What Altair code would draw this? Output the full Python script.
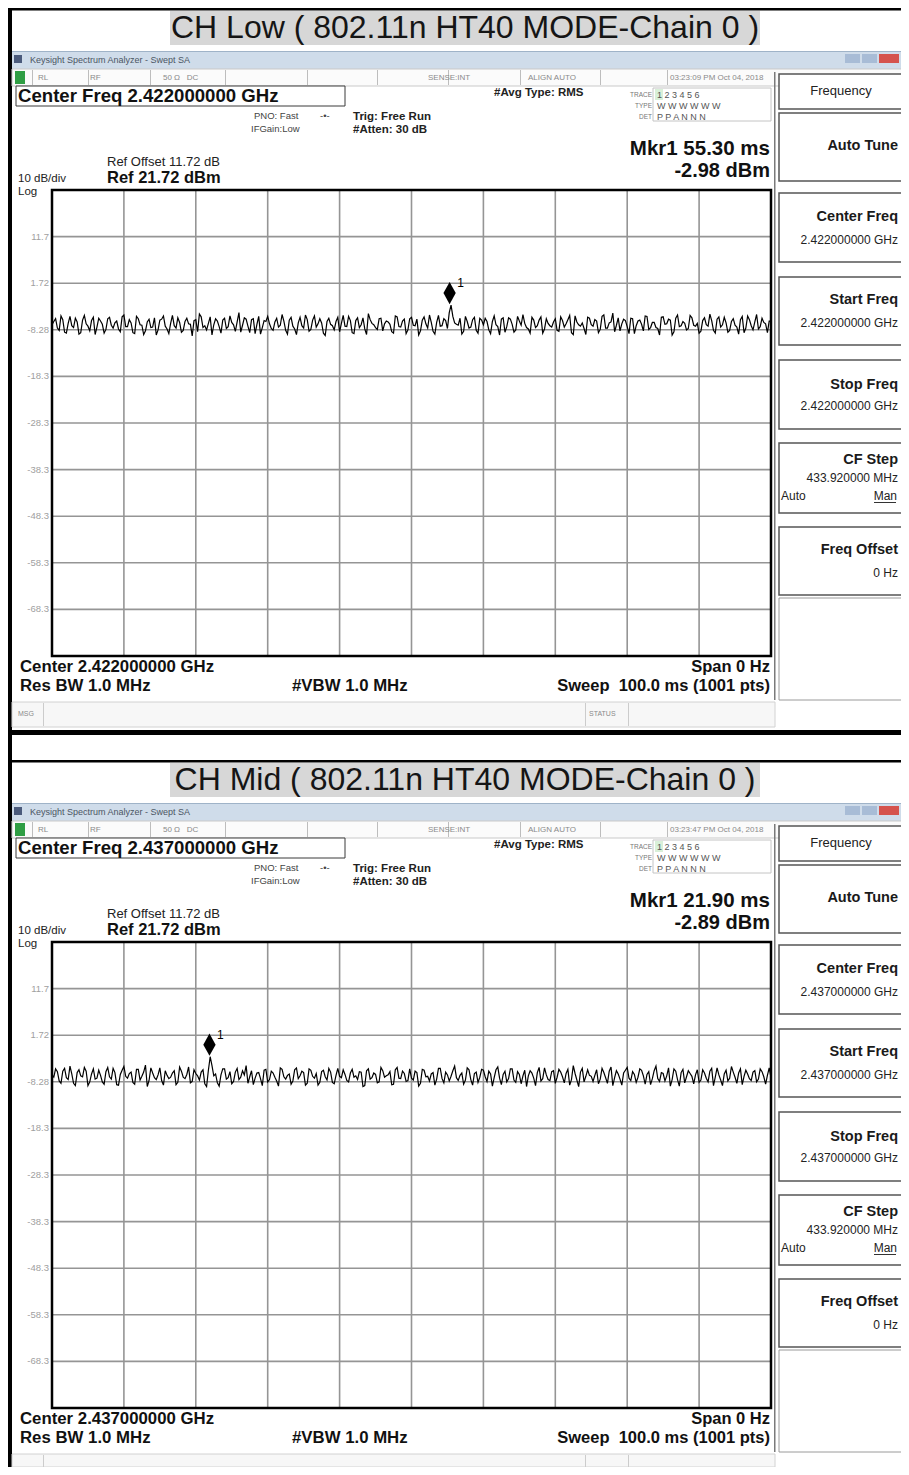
import altair as alt
import pandas as pd

FONT = "Liberation Sans"

# ---------------- data ----------------
# trace samples (dBm), sweep points in time order; A = even samples, B = odd samples
LOW_DBM_A = [
    -7.2, -5.9, -8.4, -6.1, -9.0, -5.4, -7.8, -6.6, -8.9, -5.2, -7.5, -6.3, -9.3, -5.8, -7.1, -8.2, -5.6, -7.9, -6.4, -8.7,
    -5.1, -7.6, -6.8, -9.1, -5.9, -7.3, -8.5, -6.0, -7.7, -9.4, -6.2, -5.3, -8.1, -6.9, -7.4, -5.7, -8.8, -6.5, -7.0, -9.6,
    -6.1, -4.9, -7.8, -8.3, -5.5, -7.2, -6.4, -9.0, -5.8, -7.6, -6.7, -8.6, -4.6, -7.3, -6.0, -8.9, -5.9, -7.1, -9.2, -6.3,
    -5.4, -8.0, -6.6, -7.7, -5.0, -8.4, -6.2, -7.5, -9.3, -5.6, -7.9, -6.1, -8.2, -5.3, -7.0, -6.8, -9.5, -5.8, -7.4, -6.5,
    -8.7, -5.2, -7.6, -6.3, -9.1, -5.7, -7.2, -8.1, -4.8, -6.9, -7.8, -5.9, -8.5, -6.4, -7.1, -9.0, -5.5, -7.7, -6.0, -8.3,
    -5.6, -7.4, -9.4, -6.2, -7.0, -5.1, -8.6, -6.7, -7.5, -5.9, -8.0, -3.0, -6.8, -7.3, -9.2, -5.4, -7.9, -6.1, -8.4, -5.8,
    -7.2, -6.5, -9.1, -5.3, -7.6, -6.0, -8.8, -5.7, -7.1, -8.3, -6.4, -5.0, -7.8, -9.0, -6.2, -7.4, -5.5, -8.1, -6.9, -7.7,
    -5.9, -8.6, -6.3, -7.0, -5.2, -9.3, -6.6, -7.5, -8.0, -5.6, -7.2, -6.1, -8.9, -5.4, -7.9, -6.8, -4.7, -7.3, -8.5, -6.0,
    -7.6, -5.8, -9.1, -6.4, -7.1, -5.3, -8.2, -6.7, -7.8, -9.4, -5.5, -7.0, -6.2, -8.7, -5.1, -7.4, -6.9, -8.0, -5.7, -7.5,
    -9.0, -6.3, -7.2, -4.9, -8.4, -6.0, -7.7, -5.6, -8.8, -6.5, -7.3, -9.2, -5.4, -7.9, -6.1, -8.3, -5.0, -7.6, -6.7, -8.9,
    -6.4,
]
LOW_DBM_B = [
    -6.5, -7.9, -5.3, -8.8, -6.9, -7.4, -5.8, -9.2, -6.2, -7.0, -8.5, -5.6, -7.7, -6.4, -9.0, -5.9, -7.3, -6.8, -8.1, -5.5,
    -7.6, -6.1, -8.9, -5.4, -7.2, -9.3, -6.6, -7.8, -5.7, -8.3, -6.0, -7.5, -9.1, -5.2, -7.9, -6.7, -8.4, -5.8, -7.1, -6.3,
    -8.7, -5.5, -7.4, -6.9, -9.4, -5.9, -7.6, -6.2, -8.0, -5.3, -7.2, -6.6, -8.8, -5.7, -7.5, -6.1, -9.1, -5.4, -7.8, -6.5,
    -7.0, -8.4, -5.8, -7.3, -6.4, -9.2, -5.6, -8.1, -6.8, -7.4, -5.1, -8.6, -6.2, -7.7, -5.9, -9.0, -6.5, -7.1, -8.3, -5.6,
    -6.9, -7.5, -5.4, -8.9, -6.3, -7.8, -5.7, -9.3, -6.1, -7.2, -8.2, -5.8, -7.0, -6.6, -8.7, -5.3, -7.6, -6.4, -9.1, -5.9,
    -7.3, -6.0, -8.5, -5.5, -7.9, -6.7, -9.2, -5.2, -7.4, -6.3, -4.6, -5.4, -7.1, -5.8, -8.6, -6.5, -7.7, -5.6, -9.0, -6.2,
    -5.8, -8.3, -6.5, -7.2, -9.4, -5.7, -7.6, -6.0, -8.8, -5.4, -7.3, -6.9, -8.1, -5.6, -7.8, -6.2, -9.0, -5.9, -7.4, -6.6,
    -8.4, -5.5, -7.7, -6.1, -8.9, -5.3, -7.2, -6.8, -9.3, -5.8, -7.5, -6.4, -8.2, -5.1, -7.9, -6.6, -8.7, -5.7, -7.0, -6.3,
    -9.1, -5.9, -7.4, -6.2, -8.5, -5.4, -7.8, -6.7, -8.0, -5.6, -7.1, -6.0, -9.4, -5.8, -7.6, -6.5, -8.3, -5.2, -7.3, -6.9,
    -8.6, -5.7, -7.5, -6.3, -9.0, -5.5, -7.2, -6.8, -8.4, -5.9, -7.7, -6.1, -8.9, -5.3, -7.4, -6.6, -8.1, -5.8, -7.0, -6.4,
]
MID_DBM_A = [
    -6.8, -5.5, -8.1, -6.0, -7.4, -4.9, -8.6, -6.3, -7.0, -5.2, -9.1, -6.6, -7.7, -5.8, -8.3, -6.1, -7.2, -5.4, -8.9, -6.7,
    -5.0, -7.5, -6.2, -8.8, -5.6, -7.1, -4.7, -8.0, -6.4, -7.8, -5.3, -9.0, -6.9, -7.3, -5.9, -8.4, -6.0, -7.6, -5.1, -8.2,
    -6.5, -7.9, -5.7, -9.3, -2.9, -7.0, -8.5, -6.8, -5.5, -7.4, -8.7, -6.2, -7.8, -5.9, -4.8, -7.2, -8.9, -6.4, -7.6, -5.8,
    -8.3, -6.0, -7.3, -9.2, -5.6, -7.7, -6.6, -8.1, -5.3, -7.0, -6.3, -8.6, -5.8, -7.5, -9.0, -6.1, -7.2, -5.4, -8.4, -6.9,
    -7.1, -5.7, -8.0, -6.4, -7.3, -7.8, -6.2, -9.1, -5.5, -7.4, -6.7, -8.3, -5.9, -7.0, -6.1, -8.8, -5.2, -7.6, -6.5, -8.0,
    -7.5, -6.0, -9.2, -5.6, -7.2, -8.1, -6.3, -7.7, -5.4, -8.5, -6.8, -7.1, -4.9, -8.0, -6.4, -7.9, -5.7, -9.0, -6.2, -7.3,
    -5.8, -8.2, -6.6, -7.4, -5.1, -8.9, -6.0, -7.6, -5.5, -8.4, -6.7, -7.0, -9.3, -5.9, -7.5, -6.3, -8.1, -5.3, -7.8, -6.1,
    -8.6, -5.6, -7.2, -6.5, -9.0, -4.8, -7.9, -6.2, -8.3, -5.7, -7.1, -6.9, -8.7, -5.4, -7.4, -6.0, -9.1, -5.9, -7.7, -6.4,
    -5.2, -8.0, -6.7, -7.3, -5.8, -8.8, -6.1, -7.6, -4.9, -8.2, -6.5, -7.0, -9.2, -5.5, -7.8, -6.3, -8.5, -5.9, -7.1, -6.8,
    -8.4, -5.7, -7.5, -6.0, -9.1, -5.3, -7.9, -6.6, -8.1, -5.0, -7.3, -6.4, -8.9, -5.8, -7.6, -6.2, -8.3, -5.5, -7.2, -6.9,
    -7.4,
]
MID_DBM_B = [
    -7.3, -6.1, -8.6, -5.4, -7.8, -6.6, -9.1, -5.7, -7.2, -6.0, -8.3, -5.5, -7.5, -6.9, -8.8, -5.2, -7.7, -6.3, -9.0, -5.8,
    -7.1, -6.5, -8.4, -5.6, -7.9, -6.2, -9.3, -5.3, -7.4, -6.8, -8.0, -5.9, -7.6, -6.4, -8.9, -5.1, -7.3, -6.7, -8.5, -5.7,
    -7.0, -6.2, -8.7, -5.8, -4.8, -6.6, -9.2, -5.5, -7.7, -6.1, -8.2, -5.4, -7.3, -6.8, -8.6, -5.9, -7.5, -6.3, -9.1, -5.6,
    -7.8, -6.4, -8.1, -5.3, -7.2, -6.9, -8.8, -5.7, -7.6, -6.0, -9.0, -5.5, -7.1, -6.5, -8.4, -5.8, -7.9, -6.2, -8.7, -5.4,
    -7.4, -6.7, -8.3, -5.6, -7.0, -6.1, -9.3, -5.9, -7.7, -6.4, -8.5, -5.2, -7.3, -6.8, -8.9, -5.7, -7.5, -6.0, -8.2, -5.5,
    -7.9, -6.3, -8.6, -5.8, -7.1, -6.6, -9.0, -5.4, -7.6, -6.2, -8.1, -5.9, -7.4, -6.9, -8.8, -5.3, -7.8, -6.5, -8.4, -5.6,
    -7.2, -6.0, -9.2, -5.7, -7.5, -6.7, -8.3, -5.5, -7.9, -6.1, -8.7, -5.8, -7.0, -6.4, -9.1, -5.2, -7.6, -6.8, -8.0, -5.9,
    -7.3, -6.2, -8.5, -5.6, -7.8, -6.5, -9.3, -5.4, -7.1, -6.9, -8.2, -5.7, -7.7, -6.3, -8.6, -5.1, -7.4, -6.6, -9.0, -5.8,
    -7.5, -6.1, -8.4, -5.5, -7.0, -6.7, -8.9, -5.9, -7.6, -6.3, -8.1, -5.3, -7.8, -6.0, -9.2, -5.6, -7.2, -6.5, -8.7, -5.7,
    -7.9, -6.4, -8.3, -5.4, -7.3, -6.8, -9.1, -5.8, -7.5, -6.2, -8.6, -5.5, -7.1, -6.6, -8.0, -5.9, -7.7, -6.1, -8.8, -5.3,
]
SWEEP_MS = 100.0
REF_DBM = 21.72
DB_PER_DIV = 10
GRID_DBM = [11.72, 1.72, -8.28, -18.28, -28.28, -38.28, -48.28, -58.28, -68.28]
GRID_LABELS = ["11.7", "1.72", "-8.28", "-18.3", "-28.3", "-38.3", "-48.3", "-58.3", "-68.3"]
GRID_MS = [10, 20, 30, 40, 50, 60, 70, 80, 90]

PANELS = [
    dict(title="CH Low ( 802.11n HT40 MODE-Chain 0 )", freq="2.422000000",
         clock="03:23:09 PM Oct 04, 2018", mkr_ms=55.30, mkr_dbm=-2.98, a=LOW_DBM_A, b=LOW_DBM_B),
    dict(title="CH Mid ( 802.11n HT40 MODE-Chain 0 )", freq="2.437000000",
         clock="03:23:47 PM Oct 04, 2018", mkr_ms=21.90, mkr_dbm=-2.89, a=MID_DBM_A, b=MID_DBM_B),
]

PANEL_W = 893  # page is 909 wide with 8px body margins


def interleave(a, b):
    out = []
    for i, v in enumerate(a):
        out.append(v)
        if i < len(b):
            out.append(b[i])
    return out


def panel(cfg, height, first):
    ymax = 8 + height
    xmax = 8 + PANEL_W
    DX = alt.Scale(domain=[8, xmax], range=[0, PANEL_W], nice=False, zero=False)
    DY = alt.Scale(domain=[8, ymax], range=[0, height], nice=False, zero=False)
    TX = alt.Scale(domain=[0, SWEEP_MS], range=[44, 763], nice=False, zero=False)
    bottom = REF_DBM - 10 * DB_PER_DIV
    TY = alt.Scale(domain=[bottom, REF_DBM], range=[648, 182], nice=False, zero=False)

    def rects(rows):
        rows = [(a, b, c, min(d, ymax), e, f, g) for (a, b, c, d, e, f, g) in rows if c < ymax]
        df = pd.DataFrame(rows, columns=["x", "x2", "y", "y2", "fill", "stroke", "sw"])
        return alt.Chart(df).mark_rect(clip=True).encode(
            x=alt.X("x:Q", scale=DX, axis=None), x2="x2:Q",
            y=alt.Y("y:Q", scale=DY, axis=None), y2="y2:Q",
            fill=alt.Fill("fill:N", scale=None),
            stroke=alt.Stroke("stroke:N", scale=None),
            strokeWidth=alt.StrokeWidth("sw:Q", scale=None),
        )

    def txt(rows, **kw):
        rows = [r for r in rows if r[1] < ymax - 4]
        df = pd.DataFrame(rows, columns=["x", "y", "label"])
        opts = dict(font=FONT, baseline="middle", align="left", color="#111", clip=True)
        opts.update(kw)
        return alt.Chart(df).mark_text(**opts).encode(
            x=alt.X("x:Q", scale=DX, axis=None),
            y=alt.Y("y:Q", scale=DY, axis=None),
            text="label:N",
        )

    T = "transparent"
    R = 906  # right edge of the screenshot buttons (cut off by the page edge)
    RT = 898  # right edge used for the soft-key texts
    box_rows = [
        (8, R, 8, 10.5, "#000000", T, 0),
        (8, 12, 8, ymax, "#000000", T, 0),
        (170, 760, 11, 45, "#d7d7d7", T, 0),
        (12, R, 51, 69, "#cfdcea", T, 0),
        (12, R, 51, 52, "#9fb3c8", T, 0),
        (12, R, 69, 86, "#fbfbfb", "#c9c9c9", 1),
        (14, 22, 55, 63, "#4b5b7c", T, 0),
        (15, 25, 71, 84, "#2f9e44", T, 0),
        (845, 860, 54, 63, "#a8bcd6", T, 0),
        (862, 877, 54, 63, "#a8bcd6", T, 0),
        (879, 899, 54, 63, "#d5534d", T, 0),
        (16, 345, 86, 106, "#ffffff", "#3a3a3a", 1),
        (653, 771, 88, 121, "#ffffff", "#c4c4c4", 1),
        (655, 663, 89, 100, "#d9f0d9", T, 0),
        (774, 775.5, 72, 700, "#7a7a7a", T, 0),
        (779, R, 74, 109, "#ffffff", "#555555", 1.5),
        (779, R, 113, 181, "#ffffff", "#555555", 1.5),
        (779, R, 193, 262, "#ffffff", "#555555", 1.5),
        (779, R, 277, 345, "#ffffff", "#555555", 1.5),
        (779, R, 360, 429, "#ffffff", "#555555", 1.5),
        (779, R, 443, 513, "#ffffff", "#555555", 1.5),
        (779, R, 527, 595, "#ffffff", "#555555", 1.5),
        (779, R, 598, 700, "#ffffff", "#9a9a9a", 1),
        (874, 896, 502, 503, "#333333", T, 0),
        (12, 775, 702, 727, "#f7f7f7", "#d2d2d2", 1),
        (43, 44, 703, 726, "#cccccc", T, 0),
        (585, 586, 703, 726, "#cccccc", T, 0),
        (628, 629, 703, 726, "#cccccc", T, 0),
    ]
    for sx in [32, 88, 150, 225, 307, 377, 448, 520, 600, 667]:
        box_rows.append((sx, sx + 1, 70, 85, "#bdbdbd", T, 0))
    if first:
        box_rows.append((8, R, 730, 735, "#000000", T, 0))

    f = cfg["freq"]
    nb = "\u00a0"
    deco = [
        rects(box_rows),
        txt([(465, 28, cfg["title"])], fontSize=32, align="center", color="#151515"),
        txt([(30, 60, "Keysight Spectrum Analyzer - Swept SA")], fontSize=9, color="#4b5563"),
        txt([(38, 78, "RL"), (90, 78, "RF"), (163, 78, f"50 Ω{nb}{nb}{nb}DC"), (428, 78, "SENSE:INT"),
             (528, 78, "ALIGN AUTO"), (670, 78, cfg["clock"])], fontSize=8, color="#8a8a8a"),
        txt([(18, 96, f"Center Freq {f} GHz")], fontSize=18.6, fontWeight="bold"),
        txt([(254, 116, "PNO: Fast"), (251, 129, "IFGain:Low"), (320, 116, "-•-")],
            fontSize=9.5, color="#444444"),
        txt([(353, 117, "Trig: Free Run"), (353, 130, "#Atten: 30 dB"), (494, 93, "#Avg Type: RMS")],
            fontSize=11.5, fontWeight="bold", color="#222222"),
        txt([(652, 95, "TRACE"), (652, 106, "TYPE"), (652, 117, "DET")],
            fontSize=6.5, align="right", color="#777777"),
        txt([(657, 95, "1 2 3 4 5 6"), (657, 106, "W W W W W W"), (657, 117, "P P A N N N")],
            fontSize=9, color="#555555"),
        txt([(770, 149, f"Mkr1 {cfg['mkr_ms']:.2f} ms")], fontSize=20.5, fontWeight="bold", align="right"),
        txt([(770, 171, f"{cfg['mkr_dbm']:.2f} dBm")], fontSize=20, fontWeight="bold", align="right"),
        txt([(107, 162, "Ref Offset 11.72 dB")], fontSize=13, color="#222222"),
        txt([(107, 178, f"Ref {REF_DBM:.2f} dBm")], fontSize=16.5, fontWeight="bold"),
        txt([(18, 179, f"{DB_PER_DIV} dB/div")], fontSize=11.5, color="#222222"),
        txt([(18, 191, "Log")], fontSize=11.5, color="#222222", dy=1),
        txt([(20, 667, f"Center {f} GHz"), (20, 686, "Res BW 1.0 MHz"), (292, 686, "#VBW 1.0 MHz")],
            fontSize=16.8, fontWeight="bold"),
        txt([(770, 667, "Span 0 Hz"), (770, 686, f"Sweep{nb}{nb}100.0 ms (1001 pts)")],
            fontSize=16.5, fontWeight="bold", align="right"),
        txt([(18, 714, "MSG"), (589, 714, "STATUS")], fontSize=7, color="#8a8a8a"),
        txt([(841, 91, "Frequency")], fontSize=13, align="center", color="#222222"),
        txt([(RT, 146, "Auto Tune"), (RT, 217, "Center Freq"), (RT, 300, "Start Freq"),
             (RT, 385, "Stop Freq"), (RT, 460, "CF Step"), (RT, 550, "Freq Offset")],
            fontSize=14.5, fontWeight="bold", align="right", color="#1a1a1a"),
        txt([(RT, 240, f"{f} GHz"), (RT, 323, f"{f} GHz"), (RT, 406, f"{f} GHz"),
             (RT, 478, "433.920000 MHz"), (RT - 1, 496, "Man"), (RT, 573, "0 Hz")],
            fontSize=12, align="right", color="#222222"),
        txt([(781, 496, "Auto")], fontSize=12, color="#222222"),
    ]

    vals = interleave(cfg["a"], cfg["b"])
    n = len(vals)
    tr = pd.DataFrame({"t": [SWEEP_MS * i / (n - 1) for i in range(n)], "v": vals})
    hg = pd.DataFrame({"v": GRID_DBM, "lab": GRID_LABELS, "t0": 0.0, "t1": SWEEP_MS})
    vg = pd.DataFrame({"t": GRID_MS, "v0": bottom, "v1": REF_DBM})
    fr = pd.DataFrame({"t0": [0.0], "t1": [SWEEP_MS], "v0": [bottom], "v1": [REF_DBM]})
    mk = pd.DataFrame({"t": [cfg["mkr_ms"]], "v": [cfg["mkr_dbm"]], "n": ["1"]})

    grid_h = alt.Chart(hg).mark_rule(color="#959595", strokeWidth=1.6).encode(
        x=alt.X("t0:Q", scale=TX, axis=None), x2="t1:Q",
        y=alt.Y("v:Q", scale=TY, axis=None))
    grid_v = alt.Chart(vg).mark_rule(color="#959595", strokeWidth=1.6).encode(
        x=alt.X("t:Q", scale=TX, axis=None),
        y=alt.Y("v0:Q", scale=TY, axis=None), y2="v1:Q")
    labels = alt.Chart(hg).mark_text(font=FONT, fontSize=9.5, color="#a0a0a0", align="right",
                                     baseline="middle").encode(
        x=alt.value(41), y=alt.Y("v:Q", scale=TY, axis=None), text="lab:N")
    line = alt.Chart(tr).mark_line(color="#000000", strokeWidth=1.2).encode(
        x=alt.X("t:Q", scale=TX, axis=None), y=alt.Y("v:Q", scale=TY, axis=None))
    frame = alt.Chart(fr).mark_rect(fill="transparent", stroke="#000000", strokeWidth=2.5).encode(
        x=alt.X("t0:Q", scale=TX, axis=None), x2="t1:Q",
        y=alt.Y("v0:Q", scale=TY, axis=None), y2="v1:Q")
    marker = alt.Chart(mk).mark_point(shape="M0,-1L0.55,0L0,1L-0.55,0Z", filled=True, size=500,
                                      color="#000000", opacity=1, yOffset=-12).encode(
        x=alt.X("t:Q", scale=TX, axis=None), y=alt.Y("v:Q", scale=TY, axis=None))
    mlabel = alt.Chart(mk).mark_text(font=FONT, fontSize=12, color="#000000", dx=11, dy=-22,
                                     align="center", baseline="middle").encode(
        x=alt.X("t:Q", scale=TX, axis=None), y=alt.Y("v:Q", scale=TY, axis=None), text="n:N")

    plot = alt.layer(grid_h, grid_v, labels, line, frame, marker, mlabel)
    return alt.layer(alt.layer(*deco), plot).resolve_scale(
        x="independent", y="independent").properties(width=PANEL_W, height=height)


chart = alt.vconcat(
    panel(PANELS[0], 752, True),
    panel(PANELS[1], 707, False),
    spacing=0,
).properties(padding=0, background="#ffffff").configure_view(stroke=None)

chart.save("out.html", embed_options={"renderer": "svg", "actions": False})
